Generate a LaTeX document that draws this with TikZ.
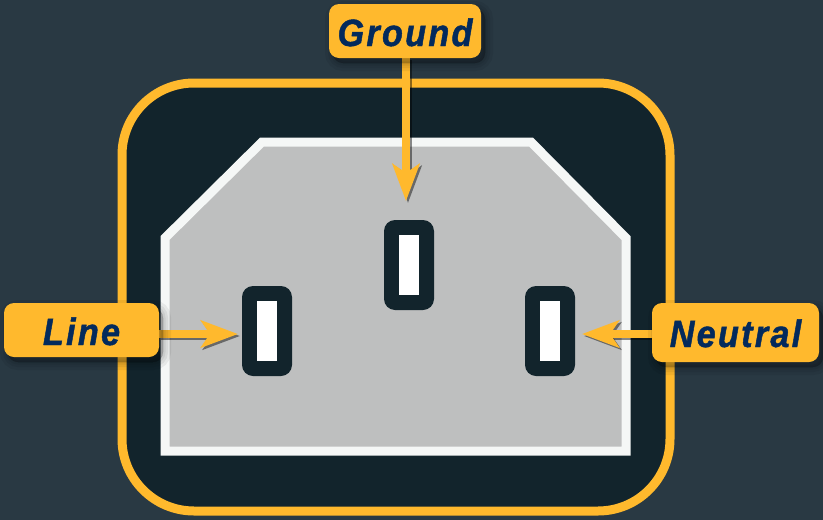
\documentclass[tikz,border=0pt]{standalone}
\usepackage{fontspec}
\usetikzlibrary{arrows.meta,shadows}
\newfontfamily\labelfont[LetterSpace=6,FakeStretch=.9,FakeBold=1.2]{Liberation Sans}
\definecolor{bgc}{HTML}{293943}
\definecolor{darkc}{HTML}{12242C}
\definecolor{grayc}{HTML}{BEBFBF}
\definecolor{orangec}{HTML}{FFB92D}
\definecolor{whitec}{HTML}{F5F7F6}
\definecolor{navyc}{HTML}{032A5C}
\tikzset{
  softsh/.style={general shadow={shadow xshift=4pt,shadow yshift=-5pt,fill=black,fill opacity=.06,draw=black,draw opacity=.06,line width=#1}},
  labelbox/.style={draw=none,fill=orangec,rounded corners=10pt,inner sep=0pt,
    softsh=16pt,softsh=10pt,softsh=5pt,softsh=1pt,
    font=\labelfont\fontsize{38}{38}\selectfont\bfseries\itshape,text=navyc},
  slotbox/.style={fill=darkc,rounded corners=11pt,minimum width=50pt,minimum height=90pt,inner sep=0pt},
  slothole/.style={fill=white,minimum width=20pt,minimum height=60pt,inner sep=0pt},
  wire/.style={line width=8.5pt,draw=orangec,-{Stealth[length=37pt,width=27pt,inset=9pt,fill=orangec]}},
  wireshadow/.style={line width=8.5pt,draw=black,opacity=.45,transform canvas={xshift=2pt,yshift=-2pt},-{Stealth[length=37pt,width=27pt,inset=9pt,fill=black]}}
}
\begin{document}
\begin{tikzpicture}[x=1pt,y=-1pt]
\useasboundingbox (0,0) rectangle (823,520);
\fill[bgc] (0,0) rectangle (823,520);
% body
\draw[line width=9pt,draw=orangec,fill=darkc,rounded corners=72pt] (122,83) rectangle (670,511);
\draw[line width=9pt,draw=whitec,fill=grayc,miter limit=10] (165,238) -- (262,142) -- (531,142) -- (626,238) -- (626,451) -- (165,451) -- cycle;
% contacts
\node[slotbox] (slotL) at (267,331) {};
\node[slotbox] (slotG) at (409,265) {};
\node[slotbox] (slotR) at (550,331) {};
\node[slothole] (holeL) at (267,331) {};
\node[slothole] (holeG) at (409,265) {};
\node[slothole] (holeR) at (550,331) {};
% tips
\coordinate (tipL) at (238,334);
\coordinate (tipG) at (406,201);
\coordinate (tipR) at (582,334);
% label anchors, connectors drawn beneath the labels
\path (405,31) node[minimum width=152pt,minimum height=54pt,inner sep=0pt] (groundA) {};
\path (81.5,330) node[minimum width=155pt,minimum height=54pt,inner sep=0pt] (lineA) {};
\path (735.5,332.5) node[minimum width=167pt,minimum height=59pt,inner sep=0pt] (neutralA) {};
\draw[wireshadow] (groundA.south -| tipG) -- (tipG);
\draw[wireshadow] (lineA.east |- tipL) -- (tipL);
\draw[wireshadow] (neutralA.west |- tipR) -- (tipR);
\draw[wire] (groundA.south -| tipG) -- (tipG);
\draw[wire] (lineA.east |- tipL) -- (tipL);
\draw[wire] (neutralA.west |- tipR) -- (tipR);
\node[labelbox,minimum width=152pt,minimum height=54pt,text height=42pt,text depth=12pt] (ground) at (groundA) {Ground};
\node[labelbox,minimum width=155pt,minimum height=54pt,text height=42pt,text depth=12pt] (line) at (lineA) {Line};
\node[labelbox,minimum width=167pt,minimum height=59pt,text height=44pt,text depth=15pt] (neutral) at (neutralA) {Neutral};
\end{tikzpicture}
\end{document}
